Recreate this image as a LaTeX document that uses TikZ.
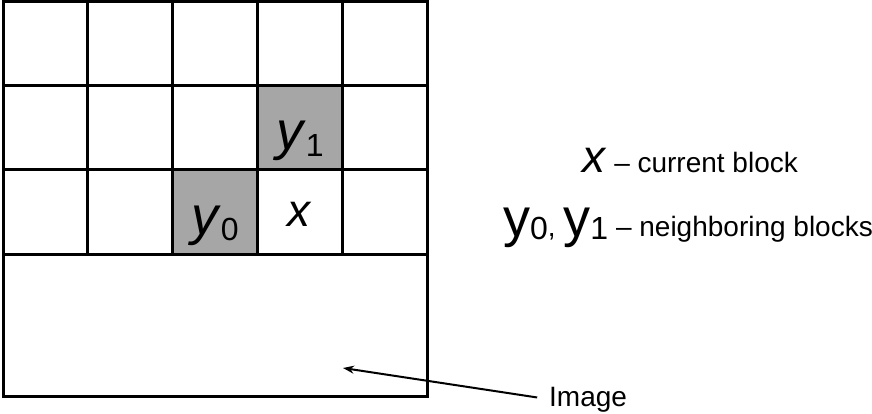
\documentclass[tikz,border=0pt]{standalone}
\usepackage{fontspec}
\setmainfont{Liberation Sans}
\usetikzlibrary{arrows.meta, positioning, backgrounds}
\definecolor{cellgray}{RGB}{166,166,166}
\newcommand{\idx}[1]{\raisebox{-0.12em}{\fontsize{32}{34}\selectfont #1}}

\begin{document}
\begin{tikzpicture}[x=1pt, y=-1pt,
  cell/.style={draw, line width=3pt, minimum width=84.8pt, minimum height=84pt, inner sep=0pt},
  lbl/.style={inner sep=0pt, anchor=base, font=\fontsize{54}{58}\selectfont},
  note/.style={inner sep=0pt, font=\fontsize{28}{32}\selectfont}
]
  \useasboundingbox (0,0) rectangle (872,414);
  \foreach \i in {0,...,4}
    \foreach \j in {0,1,2}
      \node[cell] (c\i\j) at ({3+84.8*(\i+0.5)}, {2+84*(\j+0.5)}) {};
  \node[cell, minimum width=424pt, minimum height=142pt] (img) at (215,325) {};
  \begin{scope}[on background layer]
    \fill[cellgray] (c31.south west) rectangle (c31.north east);
    \fill[cellgray] (c22.south west) rectangle (c22.north east);
  \end{scope}
  \node[lbl] (ly1) at ([yshift=-22pt]c31.center) {\textit{y}\idx{1}};
  \node[lbl] (ly0) at ([yshift=-22pt]c22.center) {\textit{y}\idx{0}};
  \node[lbl, font=\fontsize{46}{50}\selectfont] (lx) at ([yshift=-14pt]c32.center) {\textit{x}};

  \node[note, anchor=base] (cur) at (690,172) {{\fontsize{46}{50}\selectfont\textit{x}} – current block};
  \node[note, anchor=base] (nbr) at (688,236) {{\fontsize{54}{58}\selectfont y}\idx{0}, {\fontsize{54}{58}\selectfont y}\idx{1} – neighboring blocks};

  \node[note, anchor=base west] (imglab) at (549,406) {Image};
  \coordinate (imgtip) at (343,368);
  \draw[line width=2pt, -{Stealth[length=11pt, width=8pt]}, shorten <=12pt] (imglab.west) -- (imgtip);
\end{tikzpicture}
\end{document}
